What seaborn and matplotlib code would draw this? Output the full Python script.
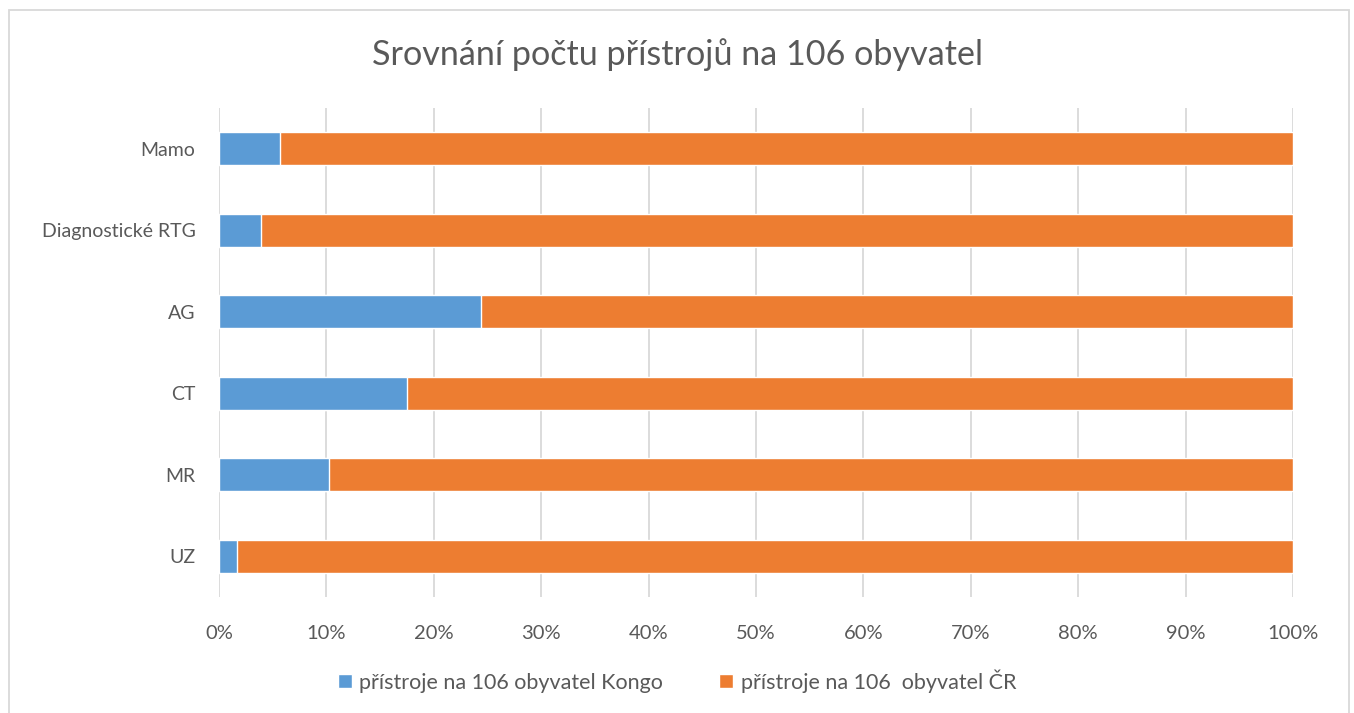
import matplotlib
matplotlib.use("Agg")
import matplotlib.pyplot as plt
import seaborn as sns
import pandas as pd
from matplotlib.patches import Rectangle
from matplotlib.ticker import PercentFormatter

categories = ["Mamo", "Diagnostické RTG", "AG", "CT", "MR", "UZ"]
kongo_share = [5.7, 3.9, 24.4, 17.5, 10.2, 1.65]
cr_share = [94.3, 96.1, 75.6, 82.5, 89.8, 98.35]
series_names = ["přístroje na 106 obyvatel Kongo", "přístroje na 106  obyvatel ČR"]
title = "Srovnání počtu přístrojů na 106 obyvatel"
x_ticks = list(range(0, 101, 10))

BLUE = "#5B9BD5"
ORANGE = "#ED7D31"
GRID = "#D9D9D9"
TEXT = "#595959"

sns.set_theme(style="white")
plt.rcParams["font.family"] = ["Lato", "DejaVu Sans"]

df = pd.DataFrame({"cat": categories, "kongo": kongo_share, "cr": cr_share})
df["total"] = df["kongo"] + df["cr"]

fig = plt.figure(figsize=(13.54, 7.13), dpi=100)
ax = fig.add_axes([219 / 1354, 1 - 597 / 713, (1293 - 219) / 1354, (597 - 108) / 713])

sns.barplot(data=df, y="cat", x="total", orient="h", color=ORANGE, width=0.4,
            saturation=1, ax=ax, label=series_names[1], zorder=2)
sns.barplot(data=df, y="cat", x="kongo", orient="h", color=BLUE, width=0.4,
            saturation=1, ax=ax, label=series_names[0], zorder=3)

ax.set_xlim(0, 100)
ax.set_xticks(x_ticks)
ax.xaxis.set_major_formatter(PercentFormatter(decimals=0))
ax.grid(axis="x", color=GRID, linewidth=1.3, zorder=0)
ax.set_axisbelow(True)
for s in ax.spines.values():
    s.set_visible(False)
ax.set_xlabel("")
ax.set_ylabel("")
ax.tick_params(axis="both", length=0, labelcolor=TEXT)
ax.tick_params(axis="x", pad=20, labelsize=14.5)
ax.tick_params(axis="y", pad=17, labelsize=14)

fig.text(0.5, 1 - 55 / 713, title, ha="center", va="center", fontsize=24.6, color=TEXT)

handles, labels = ax.get_legend_handles_labels()
order = [labels.index(series_names[0]), labels.index(series_names[1])]
leg = fig.legend([handles[i] for i in order], [labels[i] for i in order],
                 loc="center", bbox_to_anchor=(0.5, 1 - 681 / 713), ncol=2,
                 frameon=False, fontsize=15.5, handlelength=0.65, handleheight=0.65,
                 handletextpad=0.35, columnspacing=2.6, labelcolor=TEXT)
if ax.get_legend():
    ax.get_legend().remove()

fig.patches.append(Rectangle((9 / 1354, -0.01), 1340 / 1354, 1 - 10 / 713 + 0.01,
                             transform=fig.transFigure, fill=False,
                             edgecolor=GRID, linewidth=1.3))

fig.savefig("out.png", dpi=100, facecolor="white")
